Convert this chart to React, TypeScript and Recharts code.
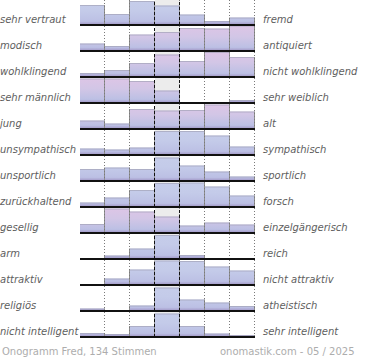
import React from 'react';
import { BarChart, Bar, XAxis, YAxis, ReferenceLine } from 'recharts';

const leftLabels = [
  'sehr vertraut', 'modisch', 'wohlklingend', 'sehr männlich', 'jung', 'unsympathisch',
  'unsportlich', 'zurückhaltend', 'gesellig', 'arm', 'attraktiv', 'religiös', 'nicht intelligent',
];
const rightLabels = [
  'fremd', 'antiquiert', 'nicht wohlklingend', 'sehr weiblich', 'alt', 'sympathisch',
  'sportlich', 'forsch', 'einzelgängerisch', 'reich', 'nicht attraktiv', 'atheistisch', 'sehr intelligent',
];
const columns = ['1', '2', '3', '4', '5', '6', '7'];
const ratings = [
  [20, 11, 24, 19.5, 10.5, 4, 7.5],
  [7.5, 5, 16.5, 19, 23, 22.5, 25.5],
  [4, 7, 14, 22.5, 16, 25, 20],
  [24.5, 24.5, 22, 12.5, 0, 0, 3],
  [8.5, 5.5, 20, 18.5, 19, 24.5, 17.5],
  [6.5, 5.5, 7.5, 24, 24, 19.5, 8.5],
  [12, 13.5, 12, 23.5, 15.5, 9.5, 4.5],
  [4.5, 9.5, 17, 24, 24.5, 20.5, 11.5],
  [9, 24.5, 21.5, 16.5, 7.5, 10.5, 8.5],
  [0.3, 3.5, 10.5, 24, 4, 0.5, 0.5],
  [0.3, 6.5, 15.5, 24.5, 24, 18.5, 14.5],
  [2.5, 0.3, 5.5, 23.5, 11.5, 8.5, 5],
  [4, 3, 11, 23.5, 11, 3.5, 2],
];
// rows whose taller bars turn pinkish
const warmRows = [1, 2, 3, 4, 8];
const middleColumn = '4';

const ROW_PITCH = 26;
const PLOT_LEFT = 80;
const FONT = '"DejaVu Sans", Verdana, sans-serif';

const BarShape = (props: any) => {
  const { x, y, width, height, fill } = props;
  if (!height || height <= 0) return null;
  return (
    <g>
      <rect x={x} y={y} width={width} height={height} fill={fill} />
      <line x1={x} y1={y + 0.5} x2={x + width} y2={y + 0.5} stroke="#a4a4b8" strokeOpacity={0.7} />
      <line x1={x - 0.5} y1={y} x2={x - 0.5} y2={y + height} stroke="#8e8e8e" />
      <line x1={x + width - 0.5} y1={y} x2={x + width - 0.5} y2={y + height} stroke="#8e8e8e" />
    </g>
  );
};

// light grey band behind the middle column
const MiddleBackground = (props: any) => {
  const { x, y, width, height, payload } = props;
  if (!payload || payload.col !== middleColumn) return <g />;
  return <rect x={x} y={y} width={width} height={height} fill="#ececec" />;
};

const Divider = (props: any) => (
  <line
    x1={props.x1 - 0.5}
    y1={props.y1}
    x2={props.x2 - 0.5}
    y2={props.y2}
    stroke={props.mid ? '#111' : '#7a7a7a'}
    strokeDasharray={props.mid ? '3 2' : '1 2'}
  />
);

const Row = ({ index }: { index: number }) => {
  const data = columns.map((c, j) => ({ col: c, value: ratings[index][j] }));
  const warm = warmRows.includes(index);
  const gid = `rowfill-${index}`;
  const midIdx = columns.indexOf(middleColumn);
  return (
    <BarChart
      width={177}
      height={28}
      data={data}
      margin={{ top: 0, right: 2, bottom: 2, left: 0 }}
      barCategoryGap={0}
      barGap={0}
    >
      <defs>
        <linearGradient id={gid} x1="0" y1="0" x2="0" y2="26" gradientUnits="userSpaceOnUse">
          <stop offset="0%" stopColor={warm ? '#dec5e6' : '#c6cdea'} />
          <stop offset="45%" stopColor={warm ? '#d2c6e6' : '#c4cbe9'} />
          <stop offset="86%" stopColor="#bcc0e4" />
          <stop offset="100%" stopColor="#9f93c4" />
        </linearGradient>
      </defs>
      <XAxis dataKey="col" hide />
      <YAxis type="number" domain={[0, 26]} allowDataOverflow hide />
      <Bar
        dataKey="value"
        fill={`url(#${gid})`}
        shape={<BarShape />}
        background={<MiddleBackground />}
        isAnimationActive={false}
      />
      {columns.map((c, j) => (
        <ReferenceLine
          key={c}
          x={c}
          position="start"
          shape={<Divider mid={j === midIdx} />}
        />
      ))}
      <ReferenceLine x={middleColumn} position="end" shape={<Divider mid />} />
      <ReferenceLine x={columns[columns.length - 1]} position="end" shape={<Divider />} />
      <ReferenceLine y={0} stroke="#111" strokeWidth={2} />
    </BarChart>
  );
};

const labelStyle: React.CSSProperties = {
  position: 'absolute',
  fontFamily: FONT,
  fontStyle: 'italic',
  fontSize: 10,
  lineHeight: '12px',
  color: '#5e5e5e',
  whiteSpace: 'nowrap',
};

const footStyle: React.CSSProperties = {
  position: 'absolute',
  top: 346,
  fontFamily: FONT,
  fontSize: 10,
  lineHeight: '12px',
  color: '#adadad',
  whiteSpace: 'nowrap',
};

export default function App() {
  return (
    <div style={{ position: 'absolute', left: 0, top: 0, width: 370, height: 360, background: '#fff', overflow: 'hidden' }}>
      {ratings.map((_, i) => (
        <div key={i} style={{ position: 'absolute', left: PLOT_LEFT, top: i * ROW_PITCH - 1, zIndex: 20 - i }}>
          <Row index={i} />
        </div>
      ))}
      {leftLabels.map((t, i) => (
        <span key={`l${i}`} style={{ ...labelStyle, left: 0, top: 14 + i * ROW_PITCH }}>{t}</span>
      ))}
      {rightLabels.map((t, i) => (
        <span key={`r${i}`} style={{ ...labelStyle, left: 263, top: 14 + i * ROW_PITCH }}>{t}</span>
      ))}
      <span style={{ ...footStyle, left: 2 }}>Onogramm Fred, 134 Stimmen</span>
      <span style={{ ...footStyle, left: 220 }}>onomastik.com - 05 / 2025</span>
    </div>
  );
}
